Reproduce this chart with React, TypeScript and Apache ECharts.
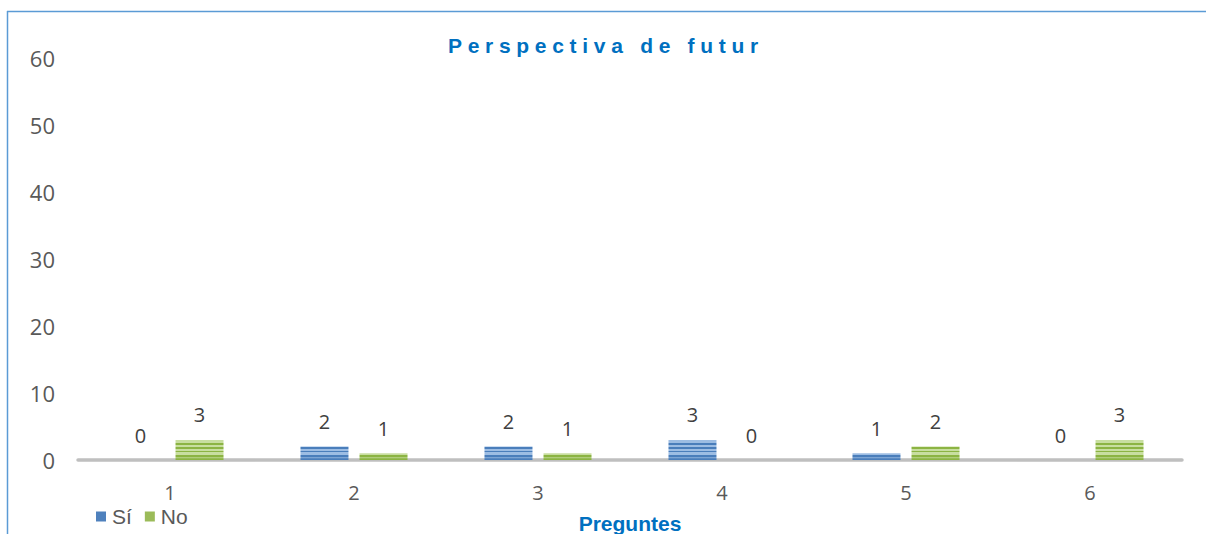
import React, { useEffect, useRef } from "react";
import * as echarts from "echarts";

const categories = ["1", "2", "3", "4", "5", "6"];
const siValues = [0, 2, 2, 3, 1, 0];
const noValues = [3, 1, 1, 0, 2, 3];
const seriesNames = ["Sí", "No"];
const titleText = "Perspectiva de futur";
const xAxisName = "Preguntes";

function stripes(dark: string, light: string) {
  const top = 380;
  const bottom = 459;
  const span = bottom - top;
  const stops: { offset: number; color: string }[] = [];
  const period = 4;
  for (let y = bottom; y > top; y -= period) {
    const a = (y - top) / span;
    const b = (y - 2.5 - top) / span;
    const c = (y - period - top) / span;
    stops.push({ offset: Math.max(0, a), color: dark });
    stops.push({ offset: Math.max(0, b), color: dark });
    stops.push({ offset: Math.max(0, b), color: light });
    stops.push({ offset: Math.max(0, c), color: light });
  }
  const sorted = stops.sort((p, q) => p.offset - q.offset);
  return new echarts.graphic.LinearGradient(0, top, 0, bottom, sorted, true);
}

export default function App() {
  const ref = useRef<HTMLDivElement>(null);
  useEffect(() => {
    if (!ref.current) return;
    const chart = echarts.init(ref.current, undefined, { renderer: "svg" });
    const labelStyle = {
      show: true,
      position: "top" as const,
      distance: 15,
      fontSize: 20,
      color: "#404040",
      fontFamily: "Open Sans",
    };
    chart.setOption({
      animation: false,
      backgroundColor: "#ffffff",
      title: {
        text: titleText,
        left: 443,
        top: 30,
        textStyle: {
          fontFamily: "Liberation Sans",
          fontWeight: "bold",
          fontSize: 21,
          color: "#0070c0",
        },
      },
      legend: {
        left: 91,
        top: 501,
        itemWidth: 10,
        itemHeight: 10,
        itemGap: 13,
        icon: "rect",
        textStyle: { fontFamily: "Liberation Sans", fontSize: 21, color: "#595959", padding: [0, 0, 0, 1] },
        data: [
          { name: seriesNames[0], itemStyle: { color: "#4f81bd" } },
          { name: seriesNames[1], itemStyle: { color: "#9bbb59" } },
        ],
      },
      grid: { left: 78, right: 24, top: 58, bottom: 74, containLabel: false, outerBoundsMode: "none" },
      xAxis: {
        type: "category",
        data: categories,
        name: xAxisName,
        nameLocation: "middle",
        nameGap: 53,
        nameTextStyle: {
          fontFamily: "Liberation Sans",
          fontWeight: "bold",
          fontSize: 21,
          color: "#0070c0",
        },
        axisLine: { show: true, lineStyle: { color: "#bfbfbf", width: 3.5 } },
        axisTick: { show: false },
        axisLabel: { fontSize: 20, color: "#595959", margin: 22, fontFamily: "Open Sans" },
      },
      yAxis: {
        type: "value",
        min: 0,
        max: 60,
        interval: 10,
        axisLine: { show: false },
        axisTick: { show: false },
        splitLine: { show: false },
        axisLabel: { fontSize: 22, color: "#595959", margin: 23, fontFamily: "Open Sans" },
      },
      series: [
        {
          name: seriesNames[0],
          type: "bar",
          data: siValues,
          barWidth: 48,
          barGap: "23%",
          itemStyle: { color: stripes("#4a7ebb", "#9dbde3") },
          label: labelStyle,
        },
        {
          name: seriesNames[1],
          type: "bar",
          data: noValues,
          barWidth: 48,
          barGap: "23%",
          itemStyle: { color: stripes("#8cb443", "#c8dea0") },
          label: labelStyle,
        },
      ],
      graphic: [
        {
          type: "line",
          shape: { x1: 7, y1: 11.5, x2: 1206, y2: 11.5 },
          style: { stroke: "#5b9bd5", lineWidth: 1.5 },
        },
        {
          type: "line",
          shape: { x1: 7.5, y1: 11, x2: 7.5, y2: 534 },
          style: { stroke: "#5b9bd5", lineWidth: 1.5 },
        },
      ],
    });
    const applySpacing = () => {
      const texts = ref.current?.querySelectorAll("text") || [];
      texts.forEach((t) => {
        if (t.textContent === titleText) {
          (t as SVGTextElement).style.letterSpacing = "5.7px";
        }
      });
    };
    applySpacing();
    chart.on("finished", applySpacing);
    const id = window.setTimeout(applySpacing, 50);
    return () => {
      window.clearTimeout(id);
      chart.dispose();
    };
  }, []);
  return (
    <div
      ref={ref}
      style={{ position: "fixed", left: 0, top: 0, width: 1206, height: 534 }}
    />
  );
}
